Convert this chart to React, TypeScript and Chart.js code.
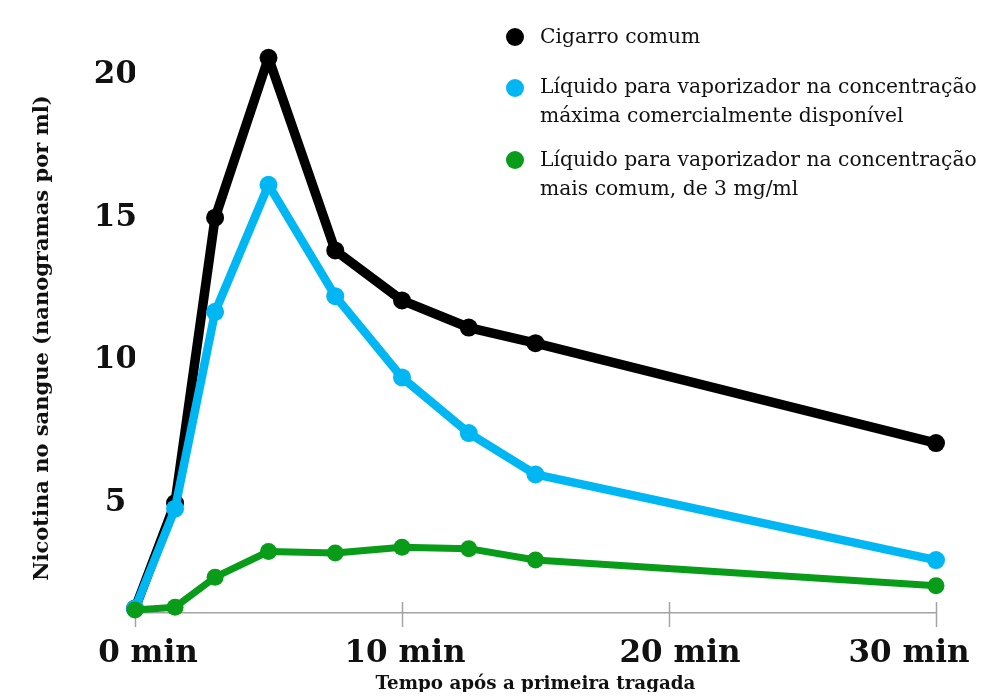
import React, { useEffect, useRef } from "react";
import { Chart, registerables } from "chart.js";

Chart.register(...registerables);

// ---- data ----
const minutes = [0, 1.5, 3, 5, 7.5, 10, 12.5, 15, 30];
const cigarroComum = [1.3, 5.0, 15.0, 20.6, 13.85, 12.1, 11.15, 10.6, 7.1];
const liquidoMaximo = [1.3, 4.8, 11.7, 16.15, 12.25, 9.4, 7.45, 6.0, 3.0];
const liquidoComum = [1.25, 1.35, 2.4, 3.3, 3.25, 3.45, 3.4, 3.0, 2.1];

const xTicks = [0, 10, 20, 30];
const xTickLabels = ["0 min", "10 min", "20 min", "30 min"];
const yTicks = [5, 10, 15, 20];

const seriesNames = [
  ["Cigarro comum"],
  ["Líquido para vaporizador na concentração", "máxima comercialmente disponível"],
  ["Líquido para vaporizador na concentração", "mais comum, de 3 mg/ml"],
];
const seriesColors = ["#000000", "#00B6F3", "#089C19"];

const xTitle = "Tempo após a primeira tragada";
const yTitle = "Nicotina no sangue (nanogramas por ml)";

const FONT = '"DejaVu Serif", serif';
const AXIS_GRAY = "#a3a3a3";
const labelShift = [13, 3, 11, -27];
const lineWidths = [9.5, 8.5, 7];
const pointRadii = [9, 9, 8.5];

const axisDecor = {
  id: "axisDecor",
  beforeDatasetsDraw(chart: any) {
    const xs = chart.scales.x;
    const { bottom } = chart.chartArea;
    const ctx = chart.ctx;
    ctx.save();
    ctx.strokeStyle = AXIS_GRAY;
    ctx.lineWidth = 1.5;
    xTicks.forEach((v) => {
      const px = Math.round(xs.getPixelForValue(v)) + 0.5;
      ctx.beginPath();
      ctx.moveTo(px, bottom - 11);
      ctx.lineTo(px, bottom + 14);
      ctx.stroke();
    });
    ctx.restore();
  },
  afterDraw(chart: any) {
    const xs = chart.scales.x;
    const { bottom } = chart.chartArea;
    const ctx = chart.ctx;
    ctx.save();
    ctx.font = `bold 31px ${FONT}`;
    ctx.fillStyle = "#111111";
    ctx.textAlign = "center";
    ctx.textBaseline = "alphabetic";
    xTicks.forEach((v, i) => {
      ctx.fillText(xTickLabels[i], xs.getPixelForValue(v) + labelShift[i], bottom + 49);
    });
    ctx.restore();
  },
};

export default function App() {
  const canvasRef = useRef<HTMLCanvasElement | null>(null);

  useEffect(() => {
    if (!canvasRef.current) return;
    const series = [cigarroComum, liquidoMaximo, liquidoComum];
    const orders = [2, 1, 0];
    const chart = new Chart(canvasRef.current, {
      type: "line",
      data: {
        datasets: series.map((vals, i) => ({
          label: seriesNames[i].join(" "),
          data: minutes.map((m, j) => ({ x: m, y: vals[j] })),
          borderColor: seriesColors[i],
          backgroundColor: seriesColors[i],
          pointBackgroundColor: seriesColors[i],
          pointBorderColor: seriesColors[i],
          borderWidth: lineWidths[i],
          pointRadius: pointRadii[i],
          pointBorderWidth: 0,
          tension: 0,
          clip: false as any,
          order: orders[i],
          borderJoinStyle: "round" as any,
        })),
      },
      options: {
        animation: false,
        responsive: true,
        maintainAspectRatio: false,
        layout: { padding: { top: 55, right: 56, left: 0, bottom: 0 } },
        plugins: {
          legend: { display: false },
          tooltip: { enabled: false },
        },
        scales: {
          x: {
            type: "linear",
            min: 0,
            max: 30,
            afterBuildTicks: (s: any) => {
              s.ticks = xTicks.map((v) => ({ value: v }));
            },
            afterFit: (s: any) => {
              s.height = 79;
            },
            ticks: { display: false },
            grid: { display: false, drawTicks: false },
            border: { display: true, color: AXIS_GRAY, width: 1.5 },
            title: {
              display: true,
              text: xTitle,
              color: "#111111",
              font: { family: FONT, size: 18.3, weight: "bold" },
              padding: { top: 0, bottom: -3 },
            },
          },
          y: {
            type: "linear",
            min: 1.145,
            max: 20.42,
            afterBuildTicks: (s: any) => {
              s.ticks = yTicks.map((v) => ({ value: v }));
            },
            afterFit: (s: any) => {
              s.width = 127;
            },
            ticks: {
              crossAlign: "center",
              padding: -2,
              color: "#111111",
              font: { family: FONT, size: 31, weight: "bold" },
            },
            grid: { display: false, drawTicks: false },
            border: { display: false },
            title: {
              display: true,
              text: yTitle,
              color: "#111111",
              font: { family: FONT, size: 21, weight: "bold" },
              padding: { top: 22, bottom: 0 },
            },
          },
        },
      },
      plugins: [axisDecor],
    });
    return () => chart.destroy();
  }, []);

  const legendTops = [13.5, 63.5, 136.5];
  const dotCenters = [29, 80, 152];

  return (
    <div style={{ position: "relative", width: 984, height: 684 }}>
      <canvas ref={canvasRef} />
      {seriesNames.map((lines, i) => (
        <React.Fragment key={i}>
          <div
            style={{
              position: "absolute",
              left: 498,
              top: dotCenters[i] - 9,
              width: 18,
              height: 18,
              borderRadius: "50%",
              background: seriesColors[i],
            }}
          />
          <div
            style={{
              position: "absolute",
              left: 532,
              top: legendTops[i],
              fontFamily: FONT,
              fontSize: 20.3,
              lineHeight: "29px",
              color: "#111111",
              whiteSpace: "nowrap",
            }}
          >
            {lines.map((l, k) => (
              <div key={k}>{l}</div>
            ))}
          </div>
        </React.Fragment>
      ))}
    </div>
  );
}
